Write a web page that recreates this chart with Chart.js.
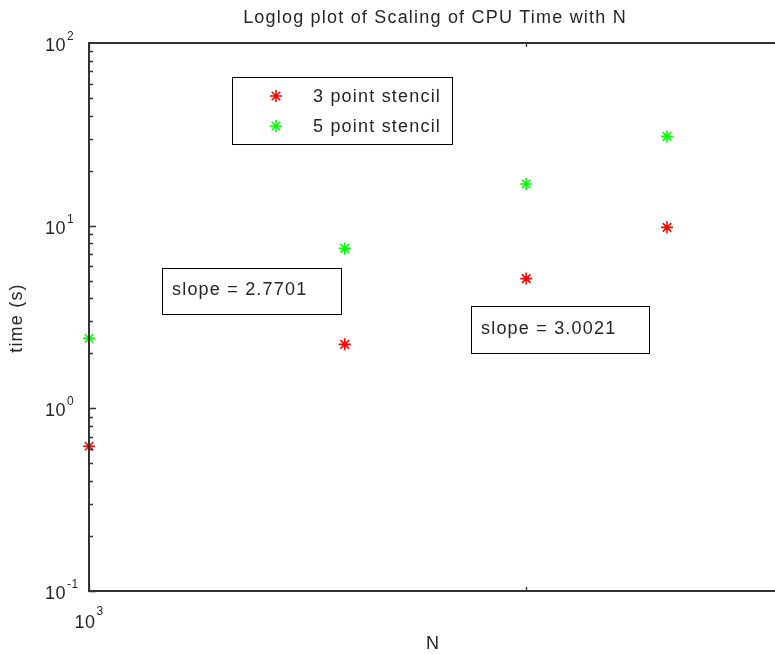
<!DOCTYPE html>
<html>
<head>
<meta charset="utf-8">
<script src="https://cdn.jsdelivr.net/npm/chart.js@4/dist/chart.umd.min.js"></script>
<style>
html,body{margin:0;padding:0;background:#fff;overflow:hidden;}
#wrap{width:790px;height:654px;}
</style>
</head>
<body>
<div id="wrap"><canvas id="c" width="790" height="654"></canvas></div>
<script>
// ---- data ----
const N = [1000, 1500, 2000, 2500];
const time3pt = [0.62, 2.24, 5.13, 9.79];
const time5pt = [2.42, 7.51, 16.9, 30.8];
const seriesNames = ['3 point stencil', '5 point stencil'];
const yTickValues = [0.1, 1, 10, 100];
const yTickExps = ['-1', '0', '1', '2'];
const xTickValues = [1000];
const xTickExps = ['3'];
const slopeTexts = ['slope = 2.7701', 'slope = 3.0021'];
const titleText = 'Loglog plot of Scaling of CPU Time with N';
const xLabel = 'N';
const yLabel = 'time (s)';

const FONT = "'Liberation Sans', Arial, Helvetica, sans-serif";
const TXT = '#262626';
const SP = '1.2px';

function pts(xs, ys){ return xs.map((x,i)=>({x:x, y:ys[i]})); }

const decor = {
  id: 'decor',
  afterDraw(chart){
    const ctx = chart.ctx;
    const a = chart.chartArea;
    const xs = chart.scales.x, ys = chart.scales.y;
    ctx.save();
    // axes box
    ctx.strokeStyle = '#333';
    ctx.lineWidth = 2;
    ctx.strokeRect(a.left, a.top, a.right - a.left, a.bottom - a.top);
    // y ticks
    ctx.lineWidth = 1.3;
    for (let d = -1; d <= 1; d++) {
      for (let m = 1; m <= 9; m++) {
        const v = m * Math.pow(10, d);
        const py = Math.round(ys.getPixelForValue(v)) + 0.5;
        const len = m === 1 ? 7 : 4;
        ctx.beginPath();
        ctx.moveTo(a.left, py); ctx.lineTo(a.left + len, py);
        ctx.moveTo(a.right, py); ctx.lineTo(a.right - len, py);
        ctx.stroke();
      }
    }
    // x ticks
    const xt = [1000, 2000, 3000];
    xt.forEach((v, i) => {
      const px = Math.round(xs.getPixelForValue(v)) + 0.5;
      const len = i === 0 ? 7 : 4;
      ctx.beginPath();
      ctx.moveTo(px, a.bottom); ctx.lineTo(px, a.bottom - len);
      ctx.moveTo(px, a.top); ctx.lineTo(px, a.top + len);
      ctx.stroke();
    });
    // tick labels
    ctx.fillStyle = TXT;
    ctx.textBaseline = 'alphabetic';
    ctx.letterSpacing = '0.5px';
    yTickValues.forEach((v, i) => {
      const py = ys.getPixelForValue(v);
      ctx.font = '18px ' + FONT;
      ctx.textAlign = 'left';
      const baseX = 45;
      ctx.fillText('10', baseX, py + 8);
      const w = ctx.measureText('10').width;
      ctx.font = '12px ' + FONT;
      ctx.fillText(yTickExps[i], baseX + w + 1, py - 3);
    });
    xTickValues.forEach((v, i) => {
      const px = xs.getPixelForValue(v);
      ctx.font = '18px ' + FONT;
      ctx.textAlign = 'left';
      const w = ctx.measureText('10').width;
      const bx = px - w / 2 - 4;
      ctx.fillText('10', bx, a.bottom + 37);
      ctx.font = '12px ' + FONT;
      ctx.fillText(xTickExps[i], bx + w + 1, a.bottom + 24);
    });
    // title and axis labels
    ctx.letterSpacing = SP;
    ctx.font = '18px ' + FONT;
    ctx.textAlign = 'center';
    ctx.textBaseline = 'middle';
    ctx.fillText(titleText, 435, 18);
    ctx.fillText(xLabel, 433, 644);
    ctx.save();
    ctx.translate(17, 318);
    ctx.rotate(-Math.PI / 2);
    ctx.fillText(yLabel, 0, 0);
    ctx.restore();
    // legend box
    ctx.strokeStyle = '#000';
    ctx.lineWidth = 1;
    ctx.fillStyle = '#fff';
    ctx.fillRect(232, 77, 220, 67);
    ctx.strokeRect(232.5, 77.5, 220, 67);
    chart.data.datasets.forEach((ds, i) => {
      const cy = 96 + i * 30;
      ctx.strokeStyle = ds.borderColor;
      ctx.lineWidth = 1.6;
      Chart.helpers.drawPoint(ctx, {pointStyle: 'star', radius: 6, borderWidth: 1.6, rotation: 0}, 276, cy);
      ctx.fillStyle = TXT;
      ctx.font = '18px ' + FONT;
      ctx.textAlign = 'left';
      ctx.textBaseline = 'middle';
      ctx.fillText(seriesNames[i], 313, cy + 1);
    });
    // slope boxes
    const boxes = [[162, 268, 179, 46, 172, 290], [471, 306, 178, 47, 481, 329]];
    boxes.forEach((b, i) => {
      ctx.fillStyle = '#fff';
      ctx.fillRect(b[0], b[1], b[2], b[3]);
      ctx.strokeStyle = '#000';
      ctx.lineWidth = 1;
      ctx.strokeRect(b[0] + 0.5, b[1] + 0.5, b[2], b[3]);
      ctx.fillStyle = TXT;
      ctx.font = '18px ' + FONT;
      ctx.textAlign = 'left';
      ctx.textBaseline = 'middle';
      ctx.fillText(slopeTexts[i], b[4], b[5]);
    });
    ctx.restore();
  }
};

new Chart(document.getElementById('c'), {
  type: 'scatter',
  data: {
    datasets: [
      { label: seriesNames[0], data: pts(N, time3pt), borderColor: '#ff0000', backgroundColor: '#ff0000',
        pointStyle: 'star', pointRadius: 6, pointBorderWidth: 1.6, clip: false },
      { label: seriesNames[1], data: pts(N, time5pt), borderColor: '#00ff00', backgroundColor: '#00ff00',
        pointStyle: 'star', pointRadius: 6, pointBorderWidth: 1.6, clip: false }
    ]
  },
  options: {
    responsive: false,
    animation: false,
    events: [],
    layout: { padding: { left: 89, top: 43, right: 8, bottom: 63 } },
    plugins: { legend: { display: false }, tooltip: { enabled: false }, title: { display: false } },
    scales: {
      x: { type: 'logarithmic', min: 1000, max: 3000, display: false },
      y: { type: 'logarithmic', min: 0.1, max: 100, display: false }
    }
  },
  plugins: [decor]
});
</script>
</body>
</html>
